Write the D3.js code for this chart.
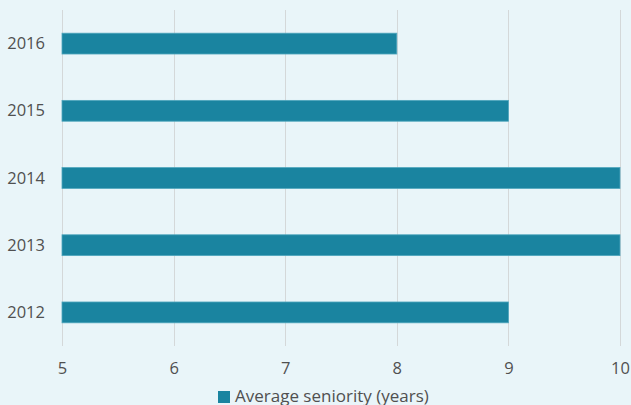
<!DOCTYPE html>
<html><head><meta charset="utf-8">
<script src="https://cdn.jsdelivr.net/npm/d3@7"></script>
<style>
html,body{margin:0;padding:0;background:#e9f5f9;}
svg{display:block;font-family:"Open Sans",sans-serif;}
</style></head><body>
<svg id="c" width="631" height="405"></svg>
<script>
const categories = ["2016","2015","2014","2013","2012"];
const values = [8, 9, 10, 10, 9];
const xTicks = [5,6,7,8,9,10];
const seriesName = "Average seniority (years)";

const FONT = "'Open Sans', sans-serif";
const svg = d3.select("#c");
svg.append("rect").attr("width",631).attr("height",405).attr("fill","#e9f5f9");
const m = {l:62, r:11, t:10, b:59};
const W = 631, H = 405;
const x = d3.scaleLinear().domain([5,10]).range([m.l, W-m.r]);
const y = d3.scaleBand().domain(categories).range([m.t, H-m.b]).paddingInner(0.69).paddingOuter(0.345);

// gridlines
svg.append("g").selectAll("line").data(xTicks).join("line")
  .attr("x1",d=>Math.round(x(d))+0.5).attr("x2",d=>Math.round(x(d))+0.5)
  .attr("y1",m.t).attr("y2",H-m.b)
  .attr("stroke","#d4d8d9").attr("stroke-width",1);

// bars
svg.append("g").selectAll("rect").data(values).join("rect")
  .attr("x",x(5)).attr("y",(d,i)=>y(categories[i]))
  .attr("width",d=>x(d)-x(5)).attr("height",y.bandwidth())
  .attr("fill","#1a84a0").attr("stroke","#4fa6bd").attr("stroke-width",0.8);

// x axis
const xa = svg.append("g").attr("transform",`translate(0,${H-m.b})`)
  .call(d3.axisBottom(x).tickValues(xTicks).tickSize(0).tickPadding(0).tickFormat(d3.format("d")));
xa.select(".domain").remove();
xa.selectAll("text").attr("dy",null).attr("y",28).attr("font-size",16.5).attr("fill","#505050").attr("font-family",FONT);

// y axis
const ya = svg.append("g").attr("transform",`translate(${m.l},0)`)
  .call(d3.axisLeft(y).tickSize(0).tickPadding(17));
ya.select(".domain").remove();
ya.selectAll("text").attr("dy",null).attr("y",5.5).attr("font-size",16.5).attr("fill","#505050").attr("font-family",FONT);

// legend
const lg = svg.append("g").attr("transform","translate(218,391)");
lg.append("rect").attr("width",12).attr("height",12).attr("fill","#1a84a0");
lg.append("text").attr("x",17).attr("y",10.5).attr("font-size",17).attr("fill","#505050")
  .attr("font-family",FONT).text(seriesName);
</script>
</body></html>
